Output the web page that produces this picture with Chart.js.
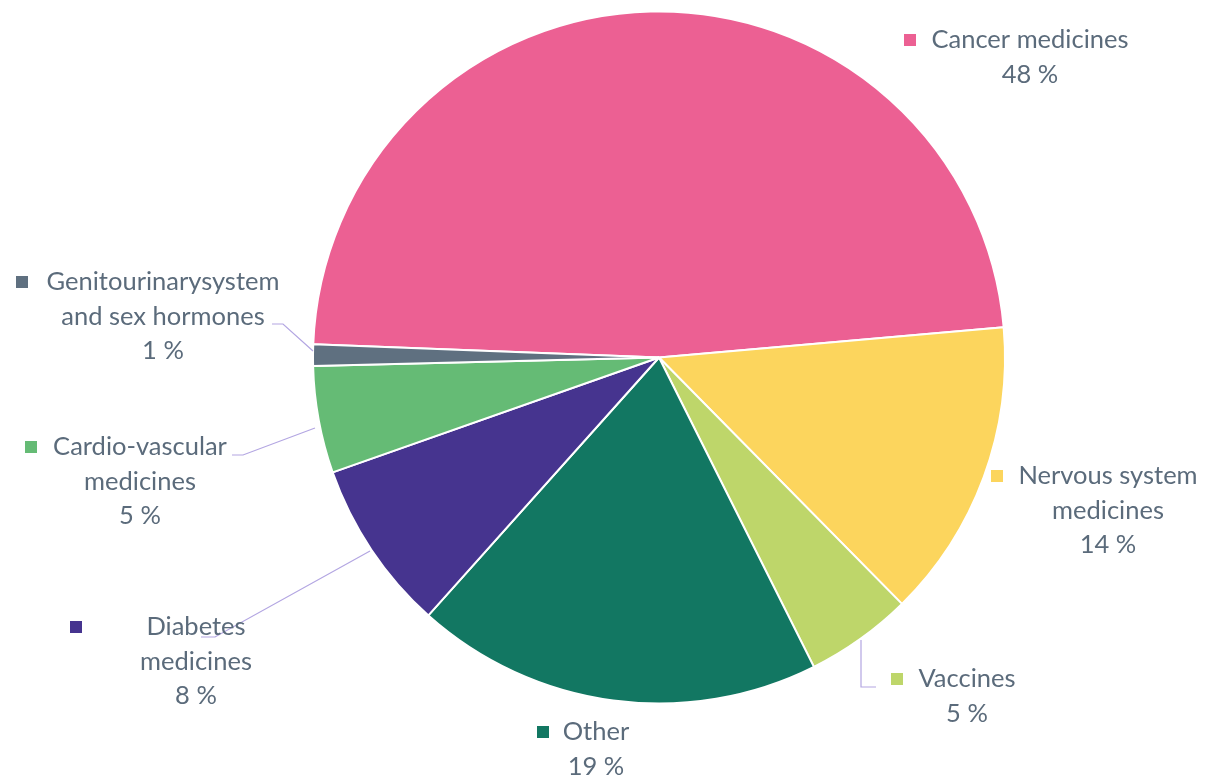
<!DOCTYPE html>
<html>
<head>
<meta charset="utf-8">
<script src="https://cdn.jsdelivr.net/npm/chart.js@4/dist/chart.umd.min.js"></script>
<style>
  html, body { margin: 0; padding: 0; background: #fff; }
  #wrap { width: 1205px; height: 779px; }
</style>
</head>
<body>
<div id="wrap"><canvas id="myPie" width="1205" height="779"></canvas></div>
<script>
const categories = ['Cancer medicines', 'Nervous system medicines', 'Vaccines', 'Other',
  'Diabetes medicines', 'Cardio-vascular medicines', 'Genitourinarysystem and sex hormones'];
const shares = [48, 14, 5, 19, 8, 5, 1];
const colors = ['#EC6093', '#FCD55D', '#BED66A', '#127762', '#46348F', '#65BB75', '#5F7080'];

// label layout: text lines, centre x of text block, y of first line, marker x, leader polyline
const labelLines = [
  ['Cancer medicines'],
  ['Nervous system', 'medicines'],
  ['Vaccines'],
  ['Other'],
  ['Diabetes', 'medicines'],
  ['Cardio-vascular', 'medicines'],
  ['Genitourinarysystem', 'and sex hormones']
];
const labelPos = [
  { cx: 1030, y: 40, mx: 910 },
  { cx: 1108, y: 476, mx: 997 },
  { cx: 967, y: 679, mx: 897 },
  { cx: 596, y: 732, mx: 543 },
  { cx: 196, y: 627, mx: 76 },
  { cx: 140, y: 447, mx: 31 },
  { cx: 163, y: 282, mx: 22 }
];
const leaders = [
  null, null,
  [[861, 640], [861, 687], [876, 687]],
  null,
  [[370, 551], [215, 637], [201, 637]],
  [[315, 428], [243, 455], [232, 455]],
  [[272, 324], [283, 324], [313, 351]]
];

const FONT = '25.5px Lato, "Open Sans", sans-serif';
const TEXT = '#5B6B7B';

const outsideLabels = {
  id: 'outsideLabels',
  afterDatasetsDraw(chart) {
    const c = chart.ctx;
    c.save();
    c.strokeStyle = '#B3A6E2';
    c.lineWidth = 1.2;
    leaders.forEach(pts => {
      if (!pts) return;
      c.beginPath();
      c.moveTo(pts[0][0], pts[0][1]);
      for (let i = 1; i < pts.length; i++) c.lineTo(pts[i][0], pts[i][1]);
      c.stroke();
    });
    c.font = FONT;
    c.textAlign = 'center';
    c.textBaseline = 'middle';
    const lh = 34.5;
    labelPos.forEach((p, i) => {
      const lines = labelLines[i].concat([shares[i] + ' %']);
      lines.forEach((t, k) => {
        c.fillStyle = TEXT;
        c.fillText(t, p.cx, p.y + k * lh);
      });
      c.fillStyle = colors[i];
      c.fillRect(p.mx - 6, p.y - 6, 12, 12);
    });
    c.restore();
  }
};

const ctx = document.getElementById('myPie');
new Chart(ctx, {
  type: 'pie',
  data: {
    labels: categories,
    datasets: [{
      data: shares,
      backgroundColor: colors,
      borderColor: '#ffffff',
      borderWidth: 2
    }]
  },
  options: {
    responsive: false,
    animation: false,
    rotation: -87.8,
    layout: { padding: { left: 312, right: 199, top: 10, bottom: 74 } },
    plugins: {
      legend: { display: false },
      tooltip: { enabled: false }
    }
  },
  plugins: [outsideLabels]
});
</script>
</body>
</html>
